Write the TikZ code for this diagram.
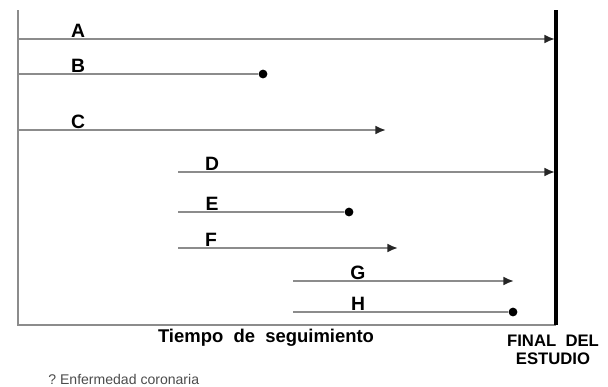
\documentclass[tikz,border=0pt]{standalone}
\usepackage{fontspec}
\setmainfont{Liberation Sans}
\usetikzlibrary{arrows.meta}

\begin{document}
\begin{tikzpicture}[x=0.02cm,y=-0.02cm,
  follow/.style={draw=black!45,line width=1.1pt},
  tag/.style={anchor=south,inner sep=0.5pt,font=\bfseries\fontsize{11}{12}\selectfont},
  event/.style={circle,fill=black,inner sep=0pt,minimum size=5pt}]
  \useasboundingbox (0,0) rectangle (608,386);
  % axes and end of study
  \coordinate (top) at (18,10);
  \coordinate (origin) at (18,325);
  \coordinate (endtop) at (556,10);
  \coordinate (endbot) at (556,325);
  \draw[follow] (top) -- (origin) -- (endbot);
  \draw[line width=2.6pt] (endtop) -- (endbot);
  % subjects entering at the start
  \coordinate (a0) at (18,39);  \coordinate (a1) at (555,39);
  \coordinate (b0) at (18,74);  \node[event] (b1) at (263,74) {};
  \coordinate (c0) at (18,130); \coordinate (c1) at (386,130);
  % subjects entering later
  \coordinate (d0) at (178,172); \coordinate (d1) at (555,172);
  \coordinate (e0) at (178,212); \node[event] (e1) at (349,212) {};
  \coordinate (f0) at (178,248); \coordinate (f1) at (398,248);
  \coordinate (g0) at (293,281); \coordinate (g1) at (514,281);
  \coordinate (h0) at (293,312); \node[event] (h1) at (513,312) {};
  \path[every edge/.style={follow,-{Latex[black!85,length=6pt,width=5pt]}}]
    (a0) edge (a1)
    (c0) edge (c1)
    (d0) edge (d1)
    (f0) edge (f1)
    (g0) edge (g1);
  \path[every edge/.style={follow}]
    (b0) edge (b1)
    (e0) edge (e1)
    (h0) edge (h1);
  \node[tag] (la) at (78,39) {A};
  \node[tag] (lb) at (78,74) {B};
  \node[tag] (lc) at (78,130) {C};
  \node[tag] (ld) at (212,172) {D};
  \node[tag] (le) at (212,212) {E};
  \node[tag] (lf) at (211,248) {F};
  \node[tag] (lg) at (358,281) {G};
  \node[tag] (lh) at (358,312) {H};
  % captions
  \node[font=\bfseries\fontsize{10.5}{11}\selectfont] (time) at (266,338) {Tiempo\ \ de\ \ seguimiento};
  \node[font=\bfseries\fontsize{9.5}{10.5}\selectfont,align=center] (final) at (553,350) {FINAL\ \ DEL\\ESTUDIO};
  \node[anchor=west,inner sep=0pt,text=black!70,font=\fontsize{8}{9}\selectfont] (legend) at (48,379) {?\ Enfermedad coronaria};
\end{tikzpicture}
\end{document}
